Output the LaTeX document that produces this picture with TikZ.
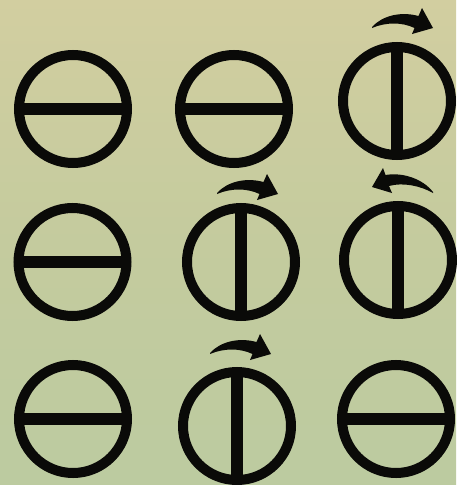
\documentclass[tikz,border=0pt]{standalone}
\definecolor{papertop}{RGB}{210,206,160}
\definecolor{papermid}{RGB}{196,203,158}
\definecolor{paperbot}{RGB}{188,203,160}
\definecolor{ink}{RGB}{10,10,8}
\tikzset{
  ring/.style={line width=10pt, draw=ink},
  bar/.style={line width=12pt, draw=ink},
  hring/.pic={\draw[ring] (0,0) circle[radius=54]; \draw[bar] (-54,0) -- (54,0);},
  vring/.pic={\draw[ring] (0,0) circle[radius=54]; \draw[bar] (0,-54) -- (0,54);},
  turnarrow/.pic={\fill[ink] (0,0) .. controls (10,-11) and (28,-16) .. (46.5,-11)
      -- (50,-19) -- (61,1) -- (40,7) -- (42.5,1)
      .. controls (30,-5) and (14,-5) .. (0,1) -- cycle;},
  turnarrowleft/.pic={\fill[ink] (0,0) .. controls (-10,-13) and (-30,-20) .. (-47.5,-17)
      -- (-50,-24) -- (-61,-5) -- (-41,1) -- (-44,-6)
      .. controls (-30,-10) and (-12,-6) .. (0,1) -- cycle;}
}
\begin{document}
\begin{tikzpicture}[x=1pt,y=-1pt]
\shade[top color=papertop, bottom color=paperbot, middle color=papermid] (0,0) rectangle (456,485);
\useasboundingbox (0,0) rectangle (456,485);
% row 1
\pic at (73,109) {hring};
\pic at (234,109) {hring};
\pic at (397,101) {vring};
\pic at (372,27) {turnarrow};
% row 2
\pic at (72.5,262) {hring};
\pic at (241,262) {vring};
\pic at (217,193) {turnarrow};
\pic at (398,260) {vring};
\pic at (433,192) {turnarrowleft};
% row 3
\pic at (73,419) {hring};
\pic at (237,426) {vring};
\pic at (210,353) {turnarrow};
\pic at (396,419) {hring};
\end{tikzpicture}
\end{document}
